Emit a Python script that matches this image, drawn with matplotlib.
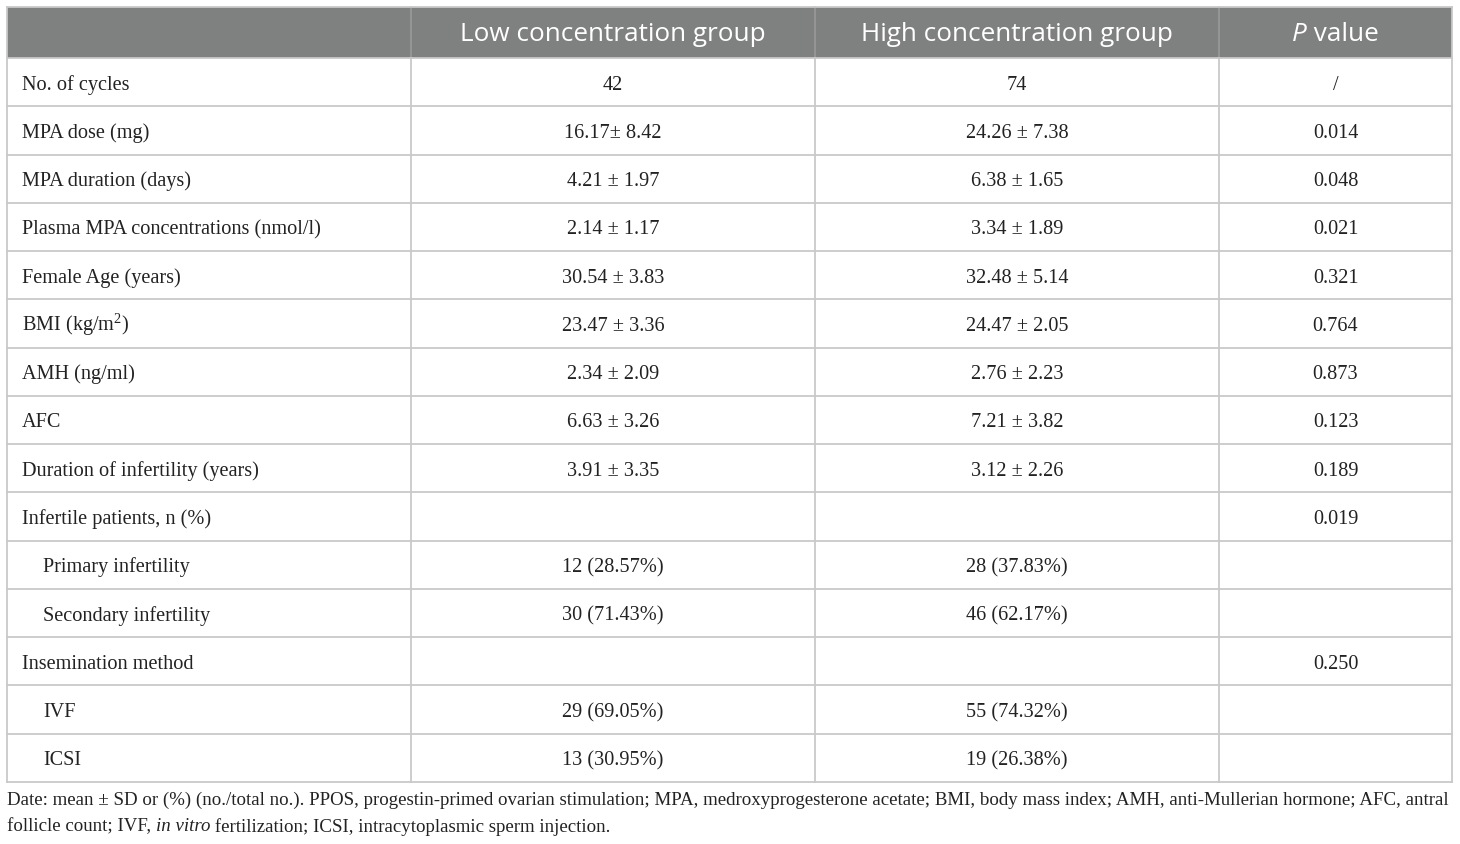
import matplotlib
matplotlib.use("Agg")
import matplotlib.pyplot as plt

plt.rcParams["mathtext.fontset"] = "custom"
plt.rcParams["mathtext.rm"] = "Liberation Serif"

# table content
headers = ["", "Low concentration group", "High concentration group", "P value"]
row_labels = ["No. of cycles", "MPA dose (mg)", "MPA duration (days)",
              "Plasma MPA concentrations (nmol/l)", "Female Age (years)",
              r"BMI (kg/m$^{\mathrm{2}}$)", "AMH (ng/ml)", "AFC", "Duration of infertility (years)",
              "Infertile patients, n (%)", "Primary infertility", "Secondary infertility",
              "Insemination method", "IVF", "ICSI"]
indented = [False] * 10 + [True, True, False, True, True]
low_group = ["42", "16.17± 8.42", "4.21 ± 1.97", "2.14 ± 1.17", "30.54 ± 3.83",
             "23.47 ± 3.36", "2.34 ± 2.09", "6.63 ± 3.26", "3.91 ± 3.35", "",
             "12 (28.57%)", "30 (71.43%)", "", "29 (69.05%)", "13 (30.95%)"]
high_group = ["74", "24.26 ± 7.38", "6.38 ± 1.65", "3.34 ± 1.89", "32.48 ± 5.14",
              "24.47 ± 2.05", "2.76 ± 2.23", "7.21 ± 3.82", "3.12 ± 2.26", "",
              "28 (37.83%)", "46 (62.17%)", "", "55 (74.32%)", "19 (26.38%)"]
p_values = ["/", "0.014", "0.048", "0.021", "0.321", "0.764", "0.873", "0.123",
            "0.189", "0.019", "", "", "0.250", "", ""]
footnote1 = ("Date: mean ± SD or (%) (no./total no.). PPOS, progestin-primed ovarian stimulation; "
             "MPA, medroxyprogesterone acetate; BMI, body mass index; AMH, anti-Mullerian hormone; AFC, antral")
footnote2 = [("follicle count; IVF, ", "normal"), ("in vitro", "italic"),
             (" fertilization; ICSI, intracytoplasmic sperm injection.", "normal")]

W, H = 1460, 845
fig = plt.figure(figsize=(W / 100, H / 100), dpi=100)
ax = fig.add_axes([0, 0, 1, 1])
ax.set_xlim(0, W)
ax.set_ylim(H, 0)
ax.axis("off")

col_x = [7, 411, 815, 1219, 1452]
top, head_bot, bottom = 7.5, 59, 783
n = len(row_labels)
row_h = (bottom - head_bot) / n
grid = "#c9c9c9"
serif = "Liberation Serif"
sans = "Open Sans"

ax.add_patch(plt.Rectangle((col_x[0], top), col_x[-1] - col_x[0], head_bot - top,
                           facecolor="#7f8080", edgecolor="none", zorder=1))
# header separators
for x in col_x[1:-1]:
    ax.plot([x, x], [top, head_bot], color="#9a9a9a", lw=1.2, zorder=2)
# grid
for i in range(n + 1):
    y = head_bot + i * row_h
    ax.plot([col_x[0], col_x[-1]], [y, y], color=grid, lw=1.3, zorder=2)
for x in col_x:
    ax.plot([x, x], [head_bot, bottom], color=grid, lw=1.3, zorder=2)
ax.plot([col_x[0], col_x[0]], [top, head_bot], color=grid, lw=1.3, zorder=2)
ax.plot([col_x[-1], col_x[-1]], [top, head_bot], color=grid, lw=1.3, zorder=2)
ax.plot([col_x[0], col_x[-1]], [top, top], color=grid, lw=1.3, zorder=2)

fig.canvas.draw()
renderer = fig.canvas.get_renderer()


def text_width(s, **kw):
    t = ax.text(0, 0, s, **kw)
    bb = t.get_window_extent(renderer)
    t.remove()
    return bb.width


def draw_runs(x, y, runs, family, size, color, center=False):
    widths = [text_width(s, family=family, fontsize=size, style=st) for s, st in runs]
    if center:
        x = x - sum(widths) / 2
    for (s, st), w in zip(runs, widths):
        ax.text(x, y, s, family=family, fontsize=size, style=st, color=color,
                ha="left", va="center", zorder=3)
        x += w


hy = (top + head_bot) / 2 + 1
hsize = 18.8
for j in (1, 2):
    ax.text((col_x[j] + col_x[j + 1]) / 2, hy, headers[j], family=sans, fontsize=hsize,
            color="white", ha="center", va="center", zorder=3)
draw_runs((col_x[3] + col_x[4]) / 2, hy, [("P", "italic"), (" value", "normal")],
          sans, hsize, "white", center=True)

body = dict(family=serif, fontsize=14.6, color="#222222", va="baseline", zorder=3)
for i in range(n):
    y = head_bot + (i + 0.5) * row_h + 6.5
    ax.text(43 if indented[i] else 22, y, row_labels[i], ha="left", **body)
    ax.text((col_x[1] + col_x[2]) / 2, y, low_group[i], ha="center", **body)
    ax.text((col_x[2] + col_x[3]) / 2, y, high_group[i], ha="center", **body)
    ax.text((col_x[3] + col_x[4]) / 2, y, p_values[i], ha="center", **body)

ax.text(7, 800, footnote1, family=serif, fontsize=13.55, color="#222222",
        ha="left", va="center")
draw_runs(7, 827, footnote2, serif, 13.55, "#222222")

fig.savefig("out.png", dpi=100)
